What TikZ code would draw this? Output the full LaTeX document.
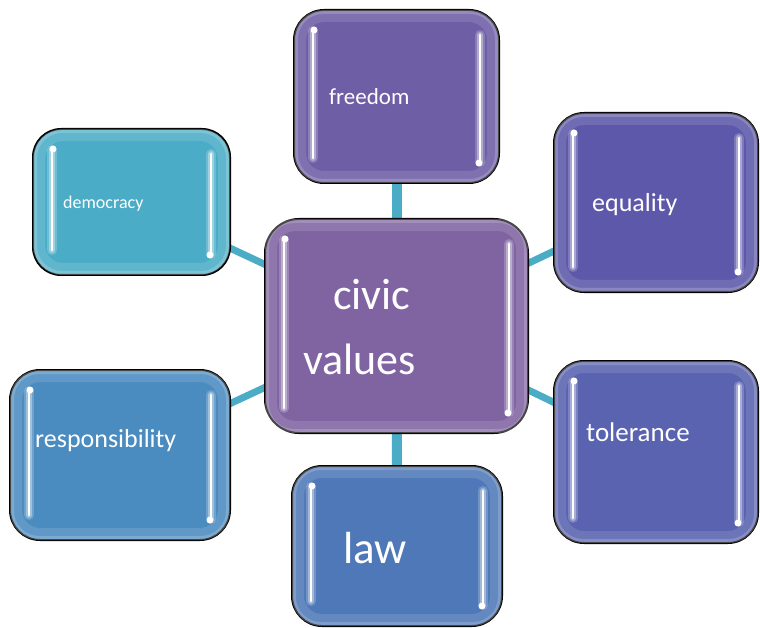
\documentclass[tikz,border=0pt]{standalone}
\usepackage{fontspec}
\setmainfont{Carlito}
\usetikzlibrary{calc,backgrounds}
\definecolor{cCenter}{HTML}{8064A2}
\definecolor{cFree}{HTML}{6E5EA6}
\definecolor{cEq}{HTML}{5D58A9}
\definecolor{cTol}{HTML}{5963B0}
\definecolor{cLaw}{HTML}{4F78B8}
\definecolor{cResp}{HTML}{4A8BC0}
\definecolor{cDem}{HTML}{4AACC6}
\definecolor{cConn}{HTML}{4BACC6}
\tikzset{
  box/.style={rectangle, draw=black, line width=2pt, rounded corners=30pt, inner sep=0pt},
  conn/.style={draw=cConn, line width=7pt},
  vconn/.style={draw=cConn, line width=10pt},
  rimA/.style={draw=white, opacity=0.12, line width=12pt, rounded corners=24pt},
  rimB/.style={draw=white, opacity=0.18, line width=4pt, rounded corners=27pt},
  hlglowA/.style={draw=white, opacity=0.2, line width=10pt, line cap=round},
  hlglowB/.style={draw=white, opacity=0.35, line width=6pt, line cap=round},
  hlcore/.style={draw=white, line width=2.8pt, line cap=round},
  hldot/.style={fill=white},
  lbl/.style={anchor=base west, inner sep=0pt, text=white},
}
\begin{document}
\begin{tikzpicture}[x=1pt,y=-1pt]
\useasboundingbox (0,0) rectangle (760,628);
% boxes
\node[box, fill=cCenter, rounded corners=34pt, minimum width=263pt, minimum height=214pt] (cv) at (396.5,326) {};
\node[box, fill=cDem, rounded corners=28pt, minimum width=197pt, minimum height=146pt] (dem) at (131.5,202) {};
\node[box, fill=cFree, minimum width=205pt, minimum height=173pt] (free) at (396.5,96.5) {};
\node[box, fill=cEq, minimum width=204pt, minimum height=179pt] (eq) at (656,202.5) {};
\node[box, fill=cTol, minimum width=204pt, minimum height=182pt] (tol) at (656,452) {};
\node[box, fill=cResp, minimum width=220pt, minimum height=170pt] (resp) at (120,455) {};
\node[box, fill=cLaw, minimum width=210pt, minimum height=160pt] (law) at (397,546) {};
% connectors behind boxes
\begin{pgfonlayer}{background}
\draw[vconn] (free.center) -- (cv.center);
\draw[vconn] (cv.center) -- (law.center);
\draw[conn] (dem.center) -- (cv.center);
\draw[conn] (eq.center) -- (cv.center);
\draw[conn] (resp.center) -- (cv.center);
\draw[conn] (tol.center) -- (cv.center);
\end{pgfonlayer}
% glossy highlights
\foreach \n in {cv,dem,free,eq,tol,resp,law}{
  \draw[rimA] ($(\n.north west)+(7,7)$) rectangle ($(\n.south east)+(-7,-7)$);
  \draw[rimB] ($(\n.north west)+(3,3)$) rectangle ($(\n.south east)+(-3,-3)$);
  \draw[hlglowA] ($(\n.north west)+(20,22)$) -- ($(\n.south west)+(20,-26)$);
  \draw[hlglowB] ($(\n.north west)+(20,22)$) -- ($(\n.south west)+(20,-26)$);
  \draw[hlcore] ($(\n.north west)+(20,22)$) -- ($(\n.south west)+(20,-26)$);
  \fill[hldot] ($(\n.north west)+(21,21)$) circle (3.5);
  \draw[hlglowA] ($(\n.north east)+(-20,26)$) -- ($(\n.south east)+(-20,-22)$);
  \draw[hlglowB] ($(\n.north east)+(-20,26)$) -- ($(\n.south east)+(-20,-22)$);
  \draw[hlcore] ($(\n.north east)+(-20,26)$) -- ($(\n.south east)+(-20,-22)$);
  \fill[hldot] ($(\n.south east)+(-21,-21)$) circle (3.5);
}
% labels
\node[lbl, font=\fontsize{44}{48}\selectfont] (t1) at (333,309) {civic};
\node[lbl, font=\fontsize{44}{48}\selectfont] (t2) at (303,374) {values};
\node[lbl, font=\fontsize{18}{20}\selectfont] (t3) at (63,209) {democracy};
\node[lbl, font=\fontsize{23}{26}\selectfont] (t4) at (329,105) {freedom};
\node[lbl, font=\fontsize{26}{30}\selectfont] (t5) at (592,212) {equality};
\node[lbl, font=\fontsize{26}{30}\selectfont] (t6) at (35,447) {responsibility};
\node[lbl, font=\fontsize{27}{30}\selectfont] (t7) at (586,441) {tolerance};
\node[lbl, font=\fontsize{45}{48}\selectfont] (t8) at (343,563) {law};
\end{tikzpicture}
\end{document}
